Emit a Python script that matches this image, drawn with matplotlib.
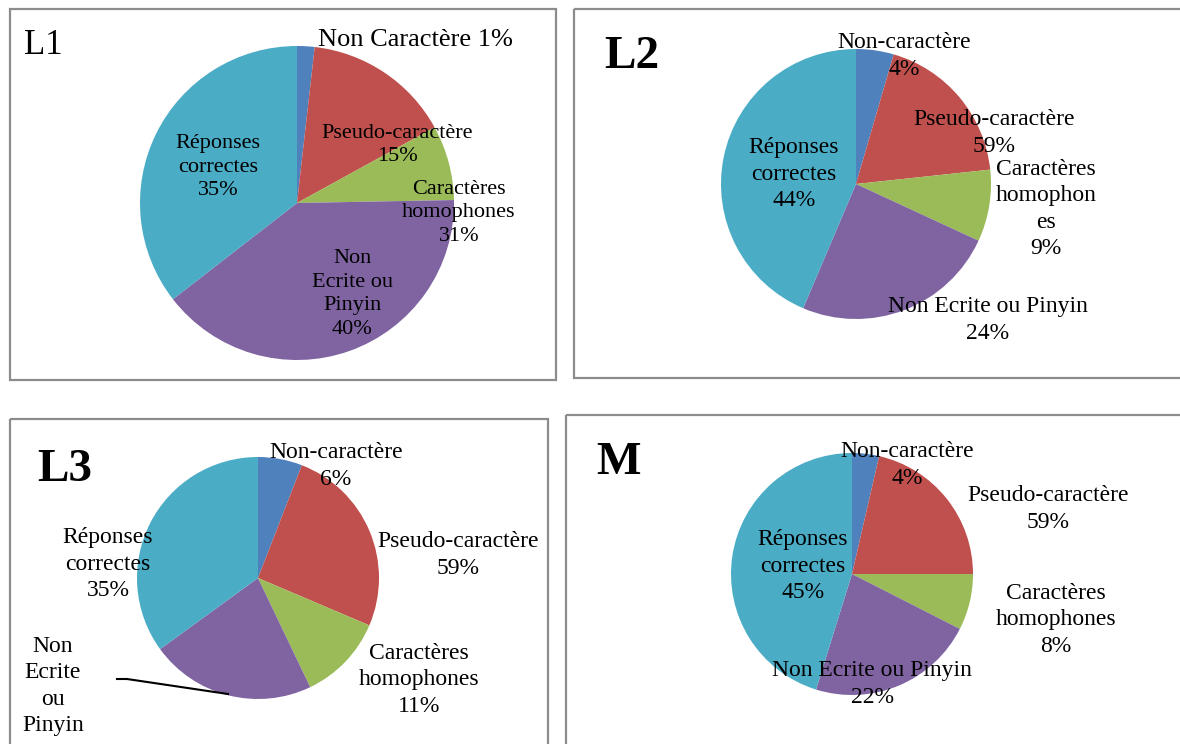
import matplotlib.pyplot as plt
from matplotlib.patches import Rectangle

# slice shares (order: non-caractere, pseudo, homophones, non ecrite, correctes)
l1_values = [1.8, 15.2, 7.7, 39.8, 35.5]
l2_values = [4.5, 18.8, 8.6, 24.5, 43.6]
l3_values = [5.9, 25.5, 11.5, 22.1, 35.0]
m_values = [3.6, 21.4, 7.5, 22.3, 45.2]

# label texts as printed on the charts
l1_labels = ["Non Caractère 1%", "Pseudo-caractère\n15%", "Caractères\nhomophones\n31%",
             "Non\nEcrite ou\nPinyin\n40%", "Réponses\ncorrectes\n35%"]
l2_labels = ["Non-caractère\n4%", "Pseudo-caractère\n59%", "Caractères\nhomophon\nes\n9%",
             "Non Ecrite ou Pinyin\n24%", "Réponses\ncorrectes\n44%"]
l3_labels = ["Non-caractère\n6%", "Pseudo-caractère\n59%", "Caractères\nhomophones\n11%",
             "Non\nEcrite\nou\nPinyin", "Réponses\ncorrectes\n35%"]
m_labels = ["Non-caractère\n4%", "Pseudo-caractère\n59%", "Caractères\nhomophones\n8%",
            "Non Ecrite ou Pinyin\n22%", "Réponses\ncorrectes\n45%"]

titles = ["L1", "L2", "L3", "M"]
colors = ["#4F81BD", "#C0504D", "#9BBB59", "#8064A2", "#4BACC6"]

font = ["Liberation Serif", "DejaVu Serif"]

fig = plt.figure(figsize=(11.8, 7.44), dpi=100)
ax = fig.add_axes([0, 0, 1, 1])

# layout in pixel units (y axis inverted below, so pies start at -90 going "up" = clockwise on screen)
panels = [
    dict(vals=l1_values, labs=l1_labels, center=(297, 203), r=157, box=(10, 9, 546, 371),
         title=(24, 46), tw="normal", ts=25, fs=16,
         pos=[(415, 40), (397, 145), (459, 213), (352, 294), (218, 167)]),
    dict(vals=l2_values, labs=l2_labels, center=(856, 184), r=135, box=(574, 9, 620, 369),
         title=(604, 57), tw="bold", ts=34, fs=17,
         pos=[(904, 56), (994, 133), (1046, 209), (988, 320), (794, 174)]),
    dict(vals=l3_values, labs=l3_labels, center=(258, 578), r=121, box=(10, 419, 538, 340),
         title=(37, 470), tw="bold", ts=34, fs=17,
         pos=[(336, 466), (458, 555), (419, 680), (53, 686), (108, 564)]),
    dict(vals=m_values, labs=m_labels, center=(852, 574), r=121, box=(566, 415, 630, 340),
         title=(596, 463), tw="bold", ts=34, fs=17,
         pos=[(907, 465), (1048, 509), (1056, 620), (872, 684), (803, 566)]),
]

for p, t in zip(panels, titles):
    x0, y0, w, h = p["box"]
    ax.add_patch(Rectangle((x0, y0), w, h, fill=False, edgecolor="#8c8c8c", lw=1.6))
    ax.pie(p["vals"], colors=colors, center=p["center"], radius=p["r"],
           startangle=-90, counterclock=True, wedgeprops=dict(linewidth=0))
    ax.text(p["title"][0], p["title"][1], t, fontsize=p["ts"], fontweight=p["tw"],
            family=font, ha="left", va="center")
    for i, (lab, (tx, ty)) in enumerate(zip(p["labs"], p["pos"])):
        fs = 19 if (t == "L1" and i == 0) else p["fs"]
        ax.text(tx, ty, lab, fontsize=fs, family=font, ha="center", va="center",
                linespacing=1.32)

# leader line for the L3 "Non Ecrite ou Pinyin" label
ax.plot([117, 127, 228], [679, 679, 694], color="black", lw=1.5)

ax.set_xlim(0, 1180)
ax.set_ylim(744, 0)
ax.set_aspect("auto")
ax.axis("off")

fig.savefig("out.png", dpi=100)
